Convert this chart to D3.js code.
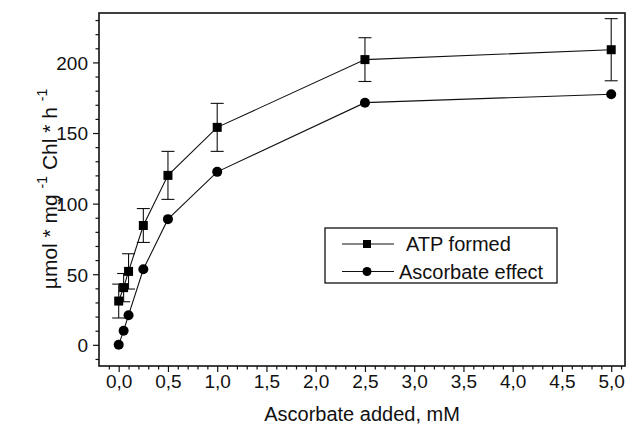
<!DOCTYPE html>
<html>
<head>
<meta charset="utf-8">
<script src="https://cdn.jsdelivr.net/npm/d3@7"></script>
<style>
	body { margin: 0; background: #fff; }
	svg { font-family: "Liberation Sans", Arial, sans-serif; }
</style>
</head>
<body>
<div id="chart-area"></div>
<script>
// Data
var ascorbate = [0, 0.05, 0.1, 0.25, 0.5, 1.0, 2.5, 5.0];
var atpFormed = [31, 40.5, 52, 84.5, 120, 154, 202, 209];
var atpError = [12, 10, 12.5, 12, 17, 17, 15.5, 22];
var ascorbateEffect = [0, 10, 21, 53.5, 89, 122.5, 171.5, 177.5];
var xTicks = [0, 0.5, 1, 1.5, 2, 2.5, 3, 3.5, 4, 4.5, 5];
var yTicks = [0, 50, 100, 150, 200];
var seriesNames = ["ATP formed", "Ascorbate effect"];

var margin = { left: 99, right: 1, top: 13, bottom: 66 };
var width = 626 - margin.left - margin.right;
var height = 432 - margin.top - margin.bottom;

var svg = d3.select("#chart-area")
	.append("svg")
	.attr("width", 626)
	.attr("height", 432);

var g = svg.append("g")
	.attr("transform", "translate(" + margin.left + "," + margin.top + ")");

// Scales
var x = d3.scaleLinear()
	.domain([-0.2, 5.14])
	.range([0, width]);

var y = d3.scaleLinear()
	.domain([-15, 235])
	.range([height, 0]);

var fmt = d => d3.format(".1f")(d).replace(".", ",");

// Minor ticks
var xMinor = d3.range(-1, 52).map(d => d / 10).filter(d => xTicks.indexOf(d) < 0);
var yMinor = d3.range(-1, 24).map(d => d * 10).filter(d => yTicks.indexOf(d) < 0);

g.append("g")
	.attr("class", "x-minor")
	.attr("transform", "translate(0," + height + ")")
	.call(d3.axisBottom(x).tickValues(xMinor).tickSize(3.5).tickFormat(""));

g.append("g")
	.attr("class", "y-minor")
	.call(d3.axisLeft(y).tickValues(yMinor).tickSize(3.5).tickFormat(""));

// Axes
var xAxis = g.append("g")
	.attr("class", "x-axis")
	.attr("transform", "translate(0," + height + ")")
	.call(d3.axisBottom(x).tickValues(xTicks).tickSize(6).tickPadding(3).tickFormat(fmt));

var yAxis = g.append("g")
	.attr("class", "y-axis")
	.call(d3.axisLeft(y).tickValues(yTicks).tickSize(6).tickPadding(5));

g.selectAll(".domain").remove();
g.selectAll(".tick line").attr("stroke", "#111").attr("stroke-width", 1.2);
g.selectAll(".tick text").attr("font-size", "19px").attr("fill", "#111");
yAxis.selectAll(".tick text").attr("dy", "0.36em");

// Frame
g.append("rect")
	.attr("x", 0)
	.attr("y", 0)
	.attr("width", width)
	.attr("height", height)
	.attr("fill", "none")
	.attr("stroke", "#111")
	.attr("stroke-width", 1.6);

// Labels
svg.append("text")
	.attr("x", 362)
	.attr("y", 421)
	.attr("font-size", "20px")
	.attr("text-anchor", "middle")
	.attr("fill", "#111")
	.text("Ascorbate added, mM");

var yLabel = svg.append("text")
	.attr("transform", "translate(57,189) rotate(-90)")
	.attr("font-size", "21px")
	.attr("text-anchor", "middle")
	.attr("fill", "#111");
yLabel.append("tspan").text("\u00b5mol * mg ");
yLabel.append("tspan").attr("font-size", "14px").attr("dy", "-10").text("-1");
yLabel.append("tspan").attr("dy", "10").text(" Chl * h ");
yLabel.append("tspan").attr("font-size", "14px").attr("dy", "-10").text("-1");

// Error bars
var capW = 6.5;
var bars = g.selectAll(".err")
	.data(ascorbate)
	.enter()
	.append("g")
	.attr("class", "err")
	.attr("stroke", "#111")
	.attr("stroke-width", 1.1);
bars.append("line")
	.attr("x1", d => x(d)).attr("x2", d => x(d))
	.attr("y1", (d, i) => y(atpFormed[i] - atpError[i]))
	.attr("y2", (d, i) => y(atpFormed[i] + atpError[i]));
bars.append("line")
	.attr("x1", d => x(d) - capW).attr("x2", d => x(d) + capW)
	.attr("y1", (d, i) => y(atpFormed[i] + atpError[i]))
	.attr("y2", (d, i) => y(atpFormed[i] + atpError[i]));
bars.append("line")
	.attr("x1", d => x(d) - capW).attr("x2", d => x(d) + capW)
	.attr("y1", (d, i) => y(atpFormed[i] - atpError[i]))
	.attr("y2", (d, i) => y(atpFormed[i] - atpError[i]));

// Lines
var line = d3.line()
	.x(d => x(d[0]))
	.y(d => y(d[1]));

g.append("path")
	.datum(d3.zip(ascorbate, atpFormed))
	.attr("d", line)
	.attr("fill", "none")
	.attr("stroke", "#111")
	.attr("stroke-width", 1.1);

g.append("path")
	.datum(d3.zip(ascorbate, ascorbateEffect))
	.attr("d", line)
	.attr("fill", "none")
	.attr("stroke", "#111")
	.attr("stroke-width", 1.1);

// Markers
g.selectAll(".sq")
	.data(d3.zip(ascorbate, atpFormed))
	.enter()
	.append("rect")
	.attr("class", "sq")
	.attr("x", d => x(d[0]) - 4.5)
	.attr("y", d => y(d[1]) - 4.5)
	.attr("width", 9)
	.attr("height", 9)
	.attr("fill", "#000");

g.selectAll(".dot")
	.data(d3.zip(ascorbate, ascorbateEffect))
	.enter()
	.append("circle")
	.attr("class", "dot")
	.attr("cx", d => x(d[0]))
	.attr("cy", d => y(d[1]))
	.attr("r", 5)
	.attr("fill", "#000");

// Legend
var legend = svg.append("g")
	.attr("transform", "translate(325,228)");
legend.append("rect")
	.attr("width", 232)
	.attr("height", 55)
	.attr("fill", "#fff")
	.attr("stroke", "#111")
	.attr("stroke-width", 1.3);

var items = legend.selectAll(".item")
	.data(seriesNames)
	.enter()
	.append("g")
	.attr("class", "item")
	.attr("transform", (d, i) => "translate(0," + (16 + i * 27.5) + ")");
items.append("line")
	.attr("x1", 17).attr("x2", 69)
	.attr("stroke", "#111")
	.attr("stroke-width", 1.1);
items.filter((d, i) => i === 0).append("rect")
	.attr("x", 38).attr("y", -4).attr("width", 8).attr("height", 8)
	.attr("fill", "#000");
items.filter((d, i) => i === 1).append("circle")
	.attr("cx", 42).attr("r", 4.5)
	.attr("fill", "#000");
items.append("text")
	.attr("x", (d, i) => i === 0 ? 81 : 74)
	.attr("dy", "0.36em")
	.attr("font-size", "20px")
	.attr("fill", "#111")
	.text(d => d);
</script>
</body>
</html>
